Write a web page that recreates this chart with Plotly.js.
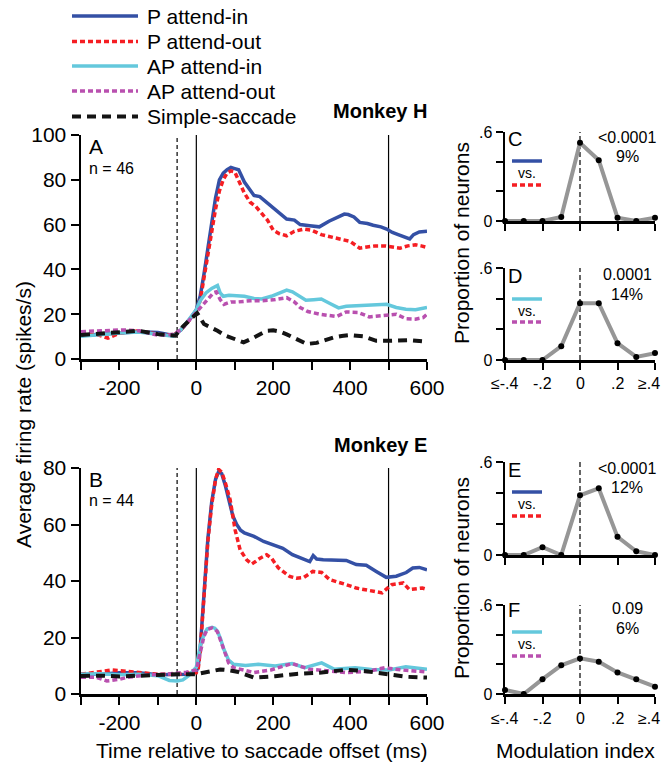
<!DOCTYPE html>
<html><head><meta charset="utf-8">
<script src="https://cdn.plot.ly/plotly-3.0.1.min.js"></script>
<style>html,body{margin:0;padding:0;background:#fff}#chart{width:662px;height:765px}</style>
</head><body><div id="chart"></div>
<script>
// ---------- DATA ----------
// Panel A (Monkey H)
const tA_Pin = [-300,-250,-200,-150,-100,-60,-40,-20,0,10,20,30,40,50,60,70,80,90,100,110,125,140,150,165,185,210,235,255,270,295,320,345,370,385,395,410,425,445,460,480,495,510,525,540,555,565,580,600];
const A_Pin  = [10.5,11,11.5,12.2,11.8,10.5,13,17,22,28,38,50,62,72,80,83,84.5,85.5,85,84.5,79,75,73,72.5,69.5,66,62.5,62,60,59.5,59,61.5,63.5,64.7,64.5,63.4,61,60.5,59.7,59,58,56.5,55.5,54.5,53.6,55.5,56.7,57];
const tA_Pout = [-300,-250,-230,-200,-150,-100,-60,-40,-20,0,10,20,30,40,50,60,70,80,90,100,110,125,140,155,170,185,200,215,235,255,280,300,325,350,375,400,425,445,465,490,510,530,550,570,585,600];
const A_Pout  = [11.5,10.5,9.3,11.5,12.6,11,10.5,13,17,21.5,26,36,47,58,67,75,80,83,84,83.5,80,74,70,68,65,62,57.5,56,55,57,58,57.5,55.5,54.5,53.5,52.5,49.5,50,50.5,50.5,50,49.5,50.5,51,50.5,49.8];
const tA_APin = [-300,-250,-200,-150,-100,-60,-40,-20,0,10,25,40,50,55,62,70,85,100,125,150,170,195,215,235,250,265,285,305,325,345,370,390,410,440,470,495,520,545,570,590,600];
const A_APin  = [10.1,11,11.6,12,10.8,10.2,13,17.5,22,26,29.5,31.5,32.6,32.8,29.5,28,28.5,28.3,28,27,26.8,28,29.5,30.8,30,28.5,26.2,26.5,26.8,25,22.8,23.5,23.7,24,24.2,24.4,23,22.2,22,22.5,23];
const tA_APout = [-300,-250,-220,-190,-150,-100,-60,-40,-20,0,15,30,45,52,62,72,90,110,140,170,200,235,255,270,290,320,345,365,390,420,450,475,495,520,545,570,590,600];
const A_APout  = [12.2,12.4,12.6,13,12.6,10.6,11,13,17,21,24,27,29.6,30,26.5,24.4,25.5,25.5,26,26,26.4,27.4,25.5,23,21.2,20,19.5,19,21,20.8,18.8,19.2,19.6,20,18,17.8,18.5,20];
const tA_SS = [-300,-250,-200,-150,-100,-55,-35,-15,2,20,40,55,75,97,123,150,183,200,218,235,252,270,287,313,335,356,378,400,434,468,500,530,555,580,600];
const A_SS  = [10.7,11.2,12,12.6,11.1,10.4,14.5,18,20.5,15.6,14,12.6,10.5,8.9,7.4,9.6,12.6,12.8,12.2,11,9.6,8,6.7,7.2,8.5,9.6,10.3,10.7,10.1,8.1,8.1,8.2,8.4,8,7.7];

// Panel B (Monkey E)
const tB_Pin = [-300,-250,-200,-150,-100,-50,-20,0,5,10,20,30,40,50,58,66,75,85,95,105,115,125,135,150,175,200,225,250,275,295,304,313,330,356,390,416,442,468,494,520,546,563,580,600];
const B_Pin  = [7,7,7.5,7.5,6.8,7,7,8,10,16,37,55,68,76,78.7,78,74,68,63,60,58,57,56.5,55.8,54,52.8,51.6,49.3,48.1,46.9,49,47.8,47.5,47.3,47.3,45.8,45.6,43.4,41.3,41.7,43,44.6,44.8,44];
const tB_Pout = [-300,-250,-220,-200,-170,-150,-100,-50,-20,0,5,10,20,30,40,50,58,66,75,88,101,114,131,144,155,166,183,196,213,243,260,280,303,326,347,364,390,416,453,483,508,538,554,588,600];
const B_Pout  = [7,8,8.5,8.3,8,7.5,7,7,7.5,7.5,9,15,36,54,67,76,79.5,78.5,75,68.7,58,51,47.5,46,47,48.1,49.3,48,44.7,41.6,41,41.3,43.4,43,40.5,39.9,38.7,37.5,36.7,35.8,38.7,39.3,37,37.5,37];
const tB_APin = [-300,-250,-200,-150,-100,-70,-50,-35,-20,0,10,20,28,35,41,48,55,63,71,84,97,128,161,205,249,282,326,358,413,456,501,545,590,600];
const B_APin  = [7,7.2,6.8,7,6.5,4.8,4.6,5,6.5,9.5,17,21,23,23.5,23.6,23.3,22.2,19.5,16,12,10.5,10.1,10.5,9.9,10.8,9.3,11,8.8,9.3,8.7,8.5,9.6,8.8,8.8];
const tB_APout = [-300,-260,-233,-200,-179,-150,-124,-80,-26,0,10,20,28,35,41,48,55,63,71,84,97,120,150,194,249,293,347,391,446,490,534,590,600];
const B_APout  = [5.9,5.9,4.6,5.2,5.9,6.3,6.8,7,7.7,8.5,15,20.5,22.8,23.3,23.4,23,22,19,16,11,9.3,8.5,7.6,8.5,10.8,8.8,8,7.6,8,9.3,8.5,8,7.8];
const tB_SS = [-300,-250,-200,-150,-100,-50,0,18,40,62,84,106,130,150,205,260,326,391,446,501,545,600];
const B_SS  = [6.4,6.5,6.2,6.5,7,7,7,7.6,8.3,8.7,8.4,7.9,6.8,5.8,6.3,7.1,7.6,8.6,8.0,7.1,6.1,5.8];

// Histograms (modulation index)
const modIndex = [-0.4,-0.3,-0.2,-0.1,0,0.1,0.2,0.3,0.4];
const histC = [0,0,0,0.027,0.527,0.41,0.022,0,0.022];
const histD = [0,0,0,0.09,0.37,0.37,0.11,0.02,0.045];
const histE = [0,0,0.05,0,0.385,0.43,0.117,0.024,0];
const histF = [0.027,0,0.1,0.193,0.24,0.218,0.145,0.1,0.049];

// Ticks & labels
const timeTicks = [-300,-200,-100,0,100,200,300,400,500,600];
const timeTickText = ['','-200','','0','','200','','400','','600'];
const rateTicksA = [0,20,40,60,80,100];
const rateTicksB = [0,20,40,60,80];
const miTicks = [-0.4,-0.2,0,0.2,0.4];
const miTickText = ['\u2264-.4','-.2','0','.2','\u2265.4'];
const propTicks = [0,0.2,0.4,0.6];
const propTickText = ['0','','','.6'];
const eventTimes = [-50,0,500];
const seriesNames = ['P attend-in','P attend-out','AP attend-in','AP attend-out','Simple-saccade'];
const pValues = ['<0.0001','0.0001','<0.0001','0.09'];
const percents = ['9%','14%','12%','6%'];
const panelLetters = ['A','B','C','D','E','F'];
const nCounts = ['n = 46','n = 44'];
const monkeyTitles = ['Monkey H','Monkey E'];

// ---------- STYLE ----------
const W = 662, H = 765;
const FONT = 'Liberation Sans, Arial, Helvetica, sans-serif';
const px = x => x / W, py = y => 1 - y / H;
const styles = [
  {color:'rgb(52,80,165)', width:3.5, dash:'solid'},
  {color:'rgb(245,30,35)', width:3.5, dash:'5px,3px'},
  {color:'rgb(100,200,220)', width:3.5, dash:'solid'},
  {color:'rgb(185,80,175)', width:3.5, dash:'5px,3px'},
  {color:'rgb(20,20,20)', width:4, dash:'9px,6px'}
];

const traces = [];
function addSeries(ts, vs, idx, xa, ya){
  traces.push({type:'scatter', mode:'lines', x:ts, y:vs, xaxis:xa, yaxis:ya,
    line:{color:styles[idx].color, width:styles[idx].width, dash:styles[idx].dash},
    hoverinfo:'skip', showlegend:false});
}
addSeries(tA_Pin, A_Pin, 0, 'x', 'y');
addSeries(tA_Pout, A_Pout, 1, 'x', 'y');
addSeries(tA_APin, A_APin, 2, 'x', 'y');
addSeries(tA_APout, A_APout, 3, 'x', 'y');
addSeries(tA_SS, A_SS, 4, 'x', 'y');
addSeries(tB_Pin, B_Pin, 0, 'x2', 'y2');
addSeries(tB_Pout, B_Pout, 1, 'x2', 'y2');
addSeries(tB_APin, B_APin, 2, 'x2', 'y2');
addSeries(tB_APout, B_APout, 3, 'x2', 'y2');
addSeries(tB_SS, B_SS, 4, 'x2', 'y2');

const hists = [histC, histD, histE, histF];
hists.forEach((h, i) => {
  const n = i + 3;
  traces.push({type:'scatter', mode:'lines+markers', x:modIndex, y:h, xaxis:'x'+n, yaxis:'y'+n,
    line:{color:'rgb(150,150,150)', width:4}, marker:{color:'black', size:6},
    cliponaxis:false, hoverinfo:'skip', showlegend:false});
});

const axBase = {showline:true, linewidth:2.5, linecolor:'black', ticks:'outside', tickwidth:2,
  tickcolor:'black', showgrid:false, zeroline:false, fixedrange:true};
const timeDom = [px(81), px(427)];
const histDom = [px(505), px(655)];
const layout = {
  width:W, height:H, margin:{l:0,r:0,t:0,b:0}, paper_bgcolor:'white', plot_bgcolor:'rgba(0,0,0,0)',
  font:{family:FONT, color:'black', size:20}, showlegend:false,
  xaxis: Object.assign({}, axBase, {domain:timeDom, anchor:'y', range:[-300,600], tickvals:timeTicks, ticktext:timeTickText, ticklen:8, tickfont:{size:21}}),
  yaxis: Object.assign({}, axBase, {domain:[py(359), py(135)], anchor:'x', range:[0,100], tickvals:rateTicksA, ticklen:8, tickfont:{size:21}}),
  xaxis2: Object.assign({}, axBase, {domain:timeDom, anchor:'y2', range:[-300,600], tickvals:timeTicks, ticktext:timeTickText, ticklen:8, tickfont:{size:21}}),
  yaxis2: Object.assign({}, axBase, {domain:[py(694), py(468)], anchor:'x2', range:[0,80], tickvals:rateTicksB, ticklen:8, tickfont:{size:21}}),
  shapes:[], annotations:[]
};
const histY = [[222,132],[361,268],[556,462],[695,605]];
histY.forEach((d, i) => {
  const n = i + 3;
  layout['xaxis'+n] = Object.assign({}, axBase, {domain:histDom, anchor:'y'+n, range:[-0.4,0.4], tickvals:miTicks,
    showticklabels:false, ticklen:7});
  layout['yaxis'+n] = Object.assign({}, axBase, {domain:[py(d[0]-1), py(d[1])], anchor:'x'+n, range:[0,0.6], tickvals:propTicks,
    ticktext:propTickText, ticklen:7, tickfont:{size:16}});
});

// event lines in time panels
[['x','y',100],['x2','y2',80]].forEach(([xa, ya, top]) => {
  eventTimes.forEach((t, k) => {
    layout.shapes.push({type:'line', xref:xa, yref:ya, x0:t, x1:t, y0:0, y1:top, layer:'below',
      line:{color:'black', width:1.2, dash: k === 0 ? '4px,3px' : 'solid'}});
  });
});
// zero lines in histograms
for (let n = 3; n <= 6; n++) {
  layout.shapes.push({type:'line', xref:'x'+n, yref:'y'+n, x0:0, x1:0, y0:0, y1:0.6, layer:'below',
    line:{color:'black', width:1.2, dash:'5px,3px'}});
}

function ann(text, x, y, opts) {
  layout.annotations.push(Object.assign({text:text, xref:'paper', yref:'paper', x:px(x), y:py(y),
    showarrow:false, xanchor:'left', yanchor:'middle', font:{family:FONT, size:20, color:'black'}}, opts || {}));
}
function seg(x0, x1, y, st) {
  layout.shapes.push({type:'line', xref:'paper', yref:'paper', x0:px(x0), x1:px(x1), y0:py(y), y1:py(y),
    line:{color:st.color, width:st.width, dash:st.dash}});
}
// histogram x tick labels (D and F), placed on the axis scale
[[4, 383], [6, 718]].forEach(([n, yy]) => {
  miTicks.forEach((v, k) => {
    const last = k === miTicks.length - 1;
    layout.annotations.push({text:miTickText[k], xref:'x'+n, yref:'paper', x:v, y:py(yy),
      xanchor: last ? 'right' : 'center', xshift: last ? 7 : 0, yanchor:'middle', showarrow:false,
      font:{family:FONT, size:16, color:'black'}});
  });
});
// main legend
const legY = [16, 41.5, 66, 91, 116.5];
seriesNames.forEach((nm, i) => {
  seg(72, 138, legY[i], styles[i]);
  ann(nm, 145, legY[i], {font:{family:FONT, size:21, color:'black'}});
});
// monkey titles
ann(monkeyTitles[0], 429, 111, {xanchor:'right', text:'<b>'+monkeyTitles[0]+'</b>', font:{family:FONT, size:20, color:'black'}});
ann(monkeyTitles[1], 429, 445, {xanchor:'right', text:'<b>'+monkeyTitles[1]+'</b>', font:{family:FONT, size:20, color:'black'}});
// panel letters & counts
ann(panelLetters[0], 87, 146, {font:{family:FONT, size:21, color:'black'}});
ann(nCounts[0], 87, 168, {font:{family:FONT, size:16, color:'black'}});
ann(panelLetters[1], 87, 479, {font:{family:FONT, size:21, color:'black'}});
ann(nCounts[1], 87, 500, {font:{family:FONT, size:16, color:'black'}});
const letY = [139, 276, 470, 610];
const miniY = [[161,173,185],[299,311,322],[492,504,516],[632,644,656]];
const miniStyles = [[0,1],[2,3],[0,1],[2,3]];
for (let i = 0; i < 4; i++) {
  ann(panelLetters[i+2], 506, letY[i], {font:{family:FONT, size:20, color:'black'}});
  ann(pValues[i], 627, letY[i] - 2, {xanchor:'center', font:{family:FONT, size:16, color:'black'}});
  ann(percents[i], 627, letY[i] + 18, {xanchor:'center', font:{family:FONT, size:16, color:'black'}});
  seg(512, 542, miniY[i][0], styles[miniStyles[i][0]]);
  ann('vs.', 527, miniY[i][1], {xanchor:'center', font:{family:FONT, size:14, color:'black'}});
  seg(512, 542, miniY[i][2], styles[miniStyles[i][1]]);
}
// axis titles
ann('Average firing rate (spikes/s)', 24, 415, {xanchor:'center', textangle:-90, font:{family:FONT, size:21, color:'black'}});
ann('Proportion of neurons', 461, 243, {xanchor:'center', textangle:-90, font:{family:FONT, size:21, color:'black'}});
ann('Proportion of neurons', 461, 578, {xanchor:'center', textangle:-90, font:{family:FONT, size:21, color:'black'}});
ann('Time relative to saccade offset (ms)', 261, 750, {xanchor:'center', font:{family:FONT, size:21, color:'black'}});
ann('Modulation index', 575, 750, {xanchor:'center', font:{family:FONT, size:21, color:'black'}});

Plotly.newPlot('chart', traces, layout, {displayModeBar:false, staticPlot:true});
</script></body></html>
